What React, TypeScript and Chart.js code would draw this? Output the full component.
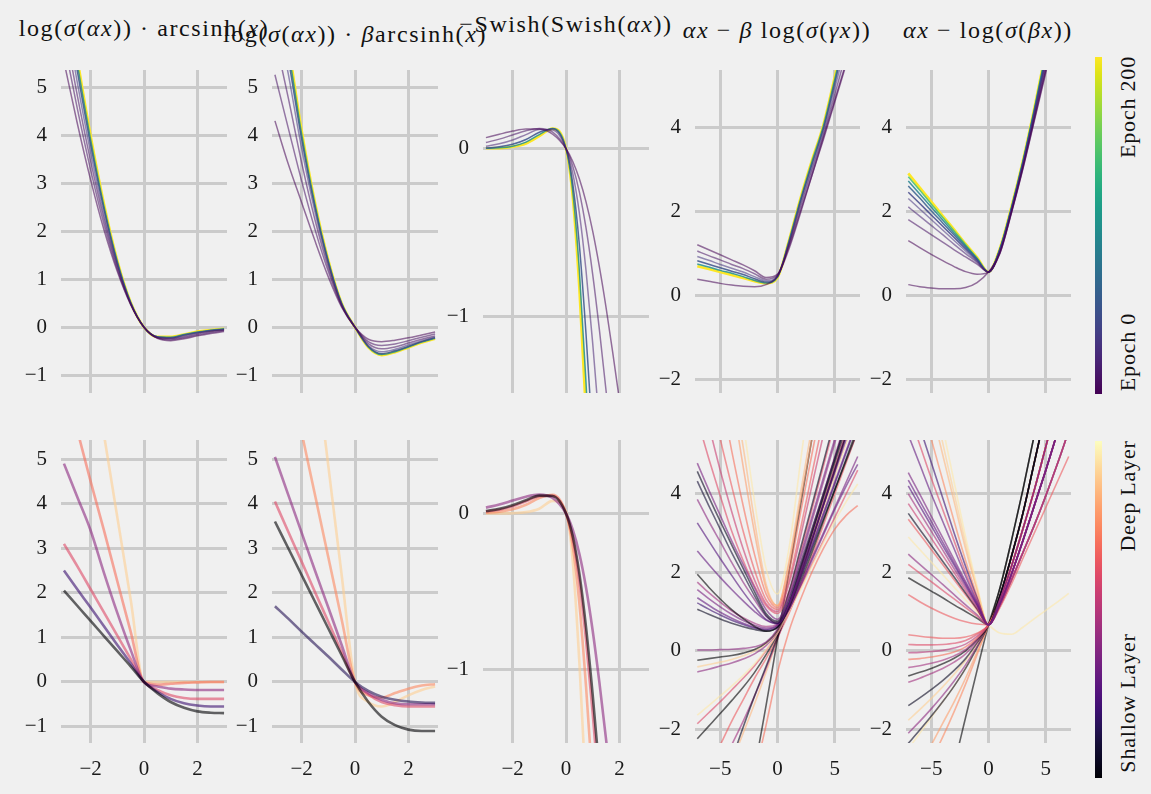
import React, { useEffect, useRef } from "react";
import { Chart, registerables } from "chart.js";

Chart.register(...registerables);

const FONT = "'Liberation Serif', 'Times New Roman', serif";
const BG = "#f0f0f0";
const GRID = "#cbcbcb";

// ---------- colour maps (21 stops, 0.05 apart) ----------
const VIRIDIS = ["#440154","#471365","#482475","#463480","#414487","#3b528b","#355f8d","#2f6c8e","#2a788e","#25848e","#21918c","#1e9c89","#22a884","#2fb47c","#44bf70","#5ec962","#7ad151","#9bd93c","#bddf26","#dfe318","#fde725"];
const MAGMA = ["#000004","#090720","#140e36","#251255","#3b0f70","#51127c","#641a80","#782281","#8c2981","#a1307e","#b73779","#ca3e72","#de4968","#ed5a5f","#f7705c","#fc8961","#fe9f6d","#feb77e","#fecf92","#fde7a9","#fcfdbf"];

// ---------- sample x positions ----------
const X13 = [-3, -2.5, -2, -1.5, -1, -0.5, 0, 0.5, 1, 1.5, 2, 2.5, 3];
const X17 = [-3, -2.5, -2, -1.5, -1, -0.5, 0, 0.25, 0.5, 0.75, 1, 1.25, 1.5, 1.75, 2, 2.5, 3];
const X15 = [-7, -6, -5, -4, -3, -2, -1, 0, 1, 2, 3, 4, 5, 6, 7];

// ---------- top row (epochs, viridis) ----------
const epochs1 = [0, 6, 12, 25, 50, 100, 200];
const top1 = [
  [5.54, 4.25, 3.07, 2.03, 1.16, 0.47, 0, -0.23, -0.28, -0.24, -0.18, -0.13, -0.09],
  [5.96, 4.56, 3.28, 2.15, 1.21, 0.48, 0, -0.22, -0.26, -0.22, -0.16, -0.11, -0.07],
  [6.33, 4.83, 3.46, 2.26, 1.26, 0.49, 0, -0.22, -0.24, -0.2, -0.14, -0.09, -0.06],
  [6.7, 5.1, 3.64, 2.36, 1.3, 0.5, 0, -0.21, -0.23, -0.18, -0.12, -0.08, -0.05],
  [7.02, 5.34, 3.8, 2.46, 1.34, 0.51, 0, -0.2, -0.22, -0.16, -0.11, -0.07, -0.04],
  [7.24, 5.5, 3.91, 2.52, 1.37, 0.52, 0, -0.2, -0.21, -0.15, -0.1, -0.06, -0.03],
  [7.39, 5.61, 3.99, 2.57, 1.39, 0.52, 0, -0.2, -0.2, -0.15, -0.09, -0.06, -0.03],
];

const epochs2 = [0, 6, 12, 25, 50, 100, 200];
const top2 = [
  [4.3, 3.4, 2.6, 1.8, 1.05, 0.42, 0, -0.25, -0.3, -0.27, -0.22, -0.16, -0.1],
  [5.26, 4.15, 3.05, 2.04, 1.16, 0.44, 0, -0.3, -0.38, -0.35, -0.28, -0.21, -0.14],
  [6.06, 4.78, 3.43, 2.24, 1.24, 0.46, 0, -0.34, -0.45, -0.41, -0.33, -0.25, -0.18],
  [6.7, 5.28, 3.73, 2.4, 1.31, 0.48, 0, -0.38, -0.51, -0.46, -0.37, -0.28, -0.2],
  [7.12, 5.6, 3.92, 2.5, 1.36, 0.49, 0, -0.4, -0.55, -0.49, -0.4, -0.3, -0.22],
  [7.34, 5.78, 4.03, 2.56, 1.38, 0.5, 0, -0.41, -0.57, -0.51, -0.41, -0.31, -0.23],
  [7.5, 5.9, 4.1, 2.6, 1.4, 0.5, 0, -0.42, -0.58, -0.52, -0.42, -0.32, -0.24],
];

const epochs3 = [0, 8, 20, 45, 100, 200];
const top3 = [
  [0.066, 0.086, 0.105, 0.118, 0.117, 0.086, 0, -0.075, -0.18, -0.318, -0.493, -0.705, -0.948, -1.217, -1.5, -2.1, -2.7],
  [0.037, 0.057, 0.082, 0.107, 0.12, 0.099, 0, -0.103, -0.258, -0.474, -0.751, -1.08, -1.445, -1.83, -2.22, -3.0, -3.8],
  [0.015, 0.029, 0.052, 0.084, 0.114, 0.111, 0, -0.145, -0.384, -0.728, -1.162, -1.651, -2.16, -2.67, -3.2, -4.2, -5.1],
  [0.004, 0.011, 0.026, 0.055, 0.098, 0.119, 0, -0.205, -0.574, -1.107, -1.74, -2.4, -3.1, -3.8, -4.4, -5.5, -6.6],
  [0.002, 0.005, 0.015, 0.039, 0.084, 0.12, 0, -0.251, -0.728, -1.4, -2.16, -2.95, -3.7, -4.5, -5.1, -6.4, -7.6],
  [0.002, 0.003, 0.011, 0.031, 0.075, 0.12, 0, -0.283, -0.833, -1.595, -2.43, -3.24, -4.02, -4.8, -5.5, -6.9, -8.3],
];

const epochs4 = [0, 3, 10, 25, 50, 100, 200];
const top4 = [
  [1.2, 1.08, 0.96, 0.84, 0.72, 0.58, 0.42, 0.5, 1.15, 2.0, 2.85, 3.7, 4.6, 5.5, 6.4],
  [0.38, 0.33, 0.28, 0.24, 0.21, 0.2, 0.25, 0.45, 1.1, 1.95, 2.85, 3.75, 4.65, 5.55, 6.45],
  [1.05, 0.94, 0.84, 0.73, 0.63, 0.51, 0.38, 0.48, 1.2, 2.09, 2.96, 3.81, 4.78, 5.77, 6.79],
  [0.92, 0.83, 0.73, 0.64, 0.55, 0.44, 0.34, 0.46, 1.23, 2.17, 3.04, 3.89, 4.93, 5.99, 7.12],
  [0.82, 0.735, 0.65, 0.57, 0.49, 0.39, 0.31, 0.44, 1.26, 2.23, 3.11, 3.96, 5.05, 6.18, 7.38],
  [0.74, 0.67, 0.59, 0.52, 0.44, 0.35, 0.29, 0.43, 1.29, 2.27, 3.17, 4.02, 5.14, 6.31, 7.57],
  [0.69, 0.62, 0.55, 0.48, 0.41, 0.33, 0.28, 0.42, 1.3, 2.3, 3.2, 4.05, 5.2, 6.4, 7.7],
];

const epochs5 = [0, 3, 8, 15, 25, 40, 60, 90, 140, 200];
const top5 = [
  [0.25, 0.2, 0.17, 0.15, 0.15, 0.18, 0.3, 0.55, 1.0, 1.95, 3.0, 4.15, 5.3, 6.5, 7.7],
  [1.3, 1.13, 0.97, 0.82, 0.68, 0.56, 0.5, 0.55, 1.0, 1.97, 3.02, 4.18, 5.35, 6.55, 7.75],
  [1.8, 1.62, 1.44, 1.26, 1.08, 0.91, 0.74, 0.55, 1.02, 1.98, 3.05, 4.22, 5.42, 6.65, 7.9],
  [2.1, 1.88, 1.66, 1.44, 1.21, 0.99, 0.78, 0.55, 1.04, 2.0, 3.08, 4.27, 5.5, 6.75, 8.0],
  [2.3, 2.05, 1.8, 1.55, 1.3, 1.05, 0.8, 0.55, 1.06, 2.02, 3.1, 4.3, 5.55, 6.85, 8.15],
  [2.45, 2.18, 1.91, 1.64, 1.37, 1.1, 0.83, 0.55, 1.08, 2.04, 3.13, 4.35, 5.62, 6.95, 8.3],
  [2.6, 2.31, 2.01, 1.72, 1.43, 1.14, 0.85, 0.55, 1.09, 2.06, 3.15, 4.38, 5.68, 7.03, 8.4],
  [2.72, 2.41, 2.1, 1.79, 1.48, 1.17, 0.87, 0.55, 1.1, 2.07, 3.17, 4.41, 5.73, 7.1, 8.48],
  [2.82, 2.5, 2.17, 1.85, 1.53, 1.2, 0.88, 0.55, 1.11, 2.09, 3.19, 4.43, 5.77, 7.15, 8.55],
  [2.9, 2.56, 2.23, 1.89, 1.56, 1.22, 0.9, 0.55, 1.12, 2.1, 3.2, 4.45, 5.8, 7.2, 8.6],
];

// ---------- bottom row (layer depth 0..1, magma) ----------
const layers6 = [0.0, 0.2, 0.4, 0.6, 0.72, 0.9];
const bot1 = [
  [2.05, 1.71, 1.37, 1.03, 0.69, 0.35, 0, -0.25, -0.45, -0.58, -0.66, -0.69, -0.7],
  [2.5, 2.08, 1.67, 1.25, 0.83, 0.42, 0, -0.22, -0.38, -0.48, -0.53, -0.55, -0.55],
  [4.9, 4.15, 3.4, 2.45, 1.55, 0.72, 0, -0.1, -0.15, -0.17, -0.18, -0.18, -0.18],
  [3.1, 2.6, 2.08, 1.56, 1.04, 0.52, 0, -0.18, -0.3, -0.36, -0.38, -0.38, -0.38],
  [6.8, 5.65, 4.5, 3.4, 2.26, 1.13, 0, -0.06, -0.04, -0.02, -0.01, 0, 0],
  [11.1, 9.25, 7.4, 5.55, 3.7, 1.85, 0, 0, 0, 0, 0, 0, 0],
];

const layers2 = [0.0, 0.15, 0.4, 0.6, 0.75, 0.9];
const bot2 = [
  [3.6, 3.0, 2.4, 1.8, 1.2, 0.6, 0, -0.45, -0.78, -0.97, -1.07, -1.1, -1.1],
  [1.7, 1.42, 1.13, 0.85, 0.57, 0.28, 0, -0.2, -0.33, -0.4, -0.44, -0.46, -0.47],
  [5.05, 4.2, 3.35, 2.5, 1.67, 0.83, 0, -0.25, -0.4, -0.48, -0.5, -0.5, -0.5],
  [4.05, 3.37, 2.7, 2.02, 1.35, 0.67, 0, -0.28, -0.45, -0.52, -0.55, -0.55, -0.55],
  [8.4, 7.0, 5.6, 4.2, 2.8, 1.4, 0, -0.3, -0.35, -0.25, -0.15, -0.08, -0.05],
  [14.5, 12.1, 9.7, 7.3, 4.85, 2.4, 0, -0.45, -0.55, -0.45, -0.3, -0.18, -0.1],
];

const layers3 = [0.0, 0.4, 0.6, 0.75, 0.9];
const bot3 = [
  [0.015, 0.029, 0.052, 0.084, 0.114, 0.111, 0, -0.145, -0.384, -0.728, -1.162, -1.651, -2.16, -2.67, -3.2, -4.2, -5.1],
  [0.037, 0.057, 0.082, 0.107, 0.12, 0.099, 0, -0.103, -0.258, -0.474, -0.751, -1.08, -1.445, -1.83, -2.22, -3.0, -3.8],
  [0.012, 0.024, 0.045, 0.078, 0.11, 0.113, 0, -0.16, -0.43, -0.81, -1.28, -1.8, -2.35, -2.9, -3.4, -4.5, -5.5],
  [0.004, 0.011, 0.026, 0.055, 0.098, 0.119, 0, -0.205, -0.574, -1.107, -1.74, -2.4, -3.1, -3.8, -4.4, -5.5, -6.6],
  [0.0, 0.0, 0.002, 0.008, 0.03, 0.08, 0.01, -0.3, -0.95, -1.8, -2.7, -3.6, -4.5, -5.4, -6.3, -8.0, -9.6],
];

const layers4 = [0.35, 0.05, 0.1, 0.4, 0.25, 0.3, 0.0, 0.45, 0.35, 0.3, 0.2, 0.05, 0.4, 0.0, 0.92, 0.4, 0.97, 0.6, 0.0, 0.7, 0.6, 0.55, 0.65, 0.7, 0.8, 0.85, 0.97, 0.05, 0.0, 0.45, 0.65, 0.85];
const bot4 = [
  [4.78, 4.1, 3.45, 2.8, 2.2, 1.6, 1.05, 0.8, 1.4, 2.4, 3.4, 4.4, 5.4, 6.4, 7.4],
  [4.57, 3.92, 3.3, 2.7, 2.1, 1.5, 0.95, 0.75, 1.5, 2.6, 3.7, 4.8, 5.9, 7.0, 8.1],
  [4.32, 3.7, 3.1, 2.5, 1.95, 1.4, 0.9, 0.7, 1.3, 2.2, 3.1, 4.0, 4.9, 5.8, 6.7],
  [3.86, 3.3, 2.78, 2.25, 1.75, 1.3, 0.88, 0.72, 1.35, 2.3, 3.3, 4.3, 5.3, 6.3, 7.3],
  [3.26, 2.8, 2.35, 1.92, 1.5, 1.12, 0.8, 0.7, 1.2, 2.0, 2.85, 3.7, 4.55, 5.4, 6.25],
  [2.54, 2.2, 1.87, 1.56, 1.27, 1.0, 0.78, 0.68, 1.15, 1.9, 2.7, 3.5, 4.3, 5.1, 5.9],
  [1.95, 1.62, 1.32, 1.05, 0.82, 0.62, 0.5, 0.6, 1.1, 1.9, 2.8, 3.7, 4.6, 5.5, 6.4],
  [1.75, 1.48, 1.24, 1.02, 0.84, 0.7, 0.62, 0.68, 1.15, 1.95, 2.8, 3.7, 4.6, 5.5, 6.4],
  [1.56, 1.33, 1.12, 0.93, 0.77, 0.65, 0.58, 0.66, 1.05, 1.7, 2.35, 3.0, 3.65, 4.3, 4.95],
  [1.35, 1.16, 0.98, 0.83, 0.7, 0.6, 0.55, 0.65, 1.05, 1.65, 2.3, 2.95, 3.6, 4.2, 4.75],
  [1.22, 1.06, 0.91, 0.78, 0.67, 0.58, 0.53, 0.62, 1.1, 1.85, 2.65, 3.45, 4.25, 5.05, 5.85],
  [1.06, 0.93, 0.81, 0.7, 0.61, 0.54, 0.5, 0.6, 1.2, 2.1, 3.0, 3.9, 4.8, 5.7, 6.6],
  [0.02, 0.02, 0.03, 0.04, 0.06, 0.1, 0.22, 0.55, 1.2, 2.1, 3.05, 4.0, 4.95, 5.9, 6.85],
  [-0.24, -0.2, -0.16, -0.12, -0.06, 0.03, 0.2, 0.52, 1.15, 2.05, 3.0, 3.95, 4.9, 5.85, 6.8],
  [-0.41, -0.35, -0.29, -0.22, -0.13, -0.01, 0.18, 0.5, 1.1, 1.9, 2.75, 3.6, 4.45, 5.3, 6.15],
  [-0.54, -0.47, -0.39, -0.31, -0.21, -0.08, 0.13, 0.48, 1.1, 1.95, 2.85, 3.75, 4.65, 5.55, 6.45],
  [-1.64, -1.4, -1.15, -0.9, -0.63, -0.33, 0.02, 0.45, 1.0, 1.55, 2.15, 2.75, 3.3, 3.8, 4.25],
  [-1.86, -1.58, -1.3, -1.0, -0.7, -0.38, 0.0, 0.45, 1.0, 1.6, 2.2, 2.8, 3.4, 4.0, 4.6],
  [-2.24, -1.92, -1.6, -1.27, -0.93, -0.55, -0.1, 0.42, 1.05, 1.75, 2.5, 3.3, 4.1, 4.9, 5.7],
  [-12, -10.2, -8.4, -6.6, -4.8, -3.2, -1.9, -0.55, 0.5, 1.3, 2.0, 2.6, 3.1, 3.45, 3.7],
  [5.9, 4.9, 3.95, 3.05, 2.3, 1.65, 1.15, 0.95, 1.5, 2.5, 3.6, 4.7, 5.8, 6.9, 8.0],
  [6.9, 5.75, 4.6, 3.55, 2.6, 1.8, 1.2, 1.0, 1.7, 2.9, 4.2, 5.5, 6.8, 8.1, 9.4],
  [8.0, 6.7, 5.4, 4.2, 3.05, 2.05, 1.3, 1.05, 1.8, 3.1, 4.5, 5.9, 7.3, 8.7, 10.0],
  [9.5, 8.0, 6.6, 5.1, 3.7, 2.45, 1.45, 1.1, 2.0, 3.5, 5.0, 6.5, 8.0, 9.5, 11.0],
  [11.0, 9.5, 8.0, 6.5, 4.7, 3.0, 1.6, 1.15, 2.2, 3.8, 5.4, 7.0, 8.6, 10.2, 11.8],
  [12.0, 10.3, 8.6, 6.9, 5.2, 3.3, 1.7, 1.15, 2.3, 4.0, 5.7, 7.4, 9.1, 10.8, 12.5],
  [13.0, 11.2, 9.4, 7.6, 5.8, 3.8, 2.1, 1.45, 2.6, 4.8, 7.0, 9.2, 11.4, 13.6, 15.8],
  [-5.5, -4.6, -3.7, -2.8, -1.95, -1.15, -0.4, 0.35, 1.1, 1.85, 2.6, 3.35, 4.1, 4.85, 5.6],
  [-10, -8.6, -7.2, -5.8, -4.4, -3.0, -1.4, 0.3, 2.0, 3.7, 5.4, 7.1, 8.8, 10.5, 12.2],
  [-4.2, -3.6, -3.0, -2.4, -1.8, -1.15, -0.45, 0.3, 1.1, 1.95, 2.85, 3.75, 4.65, 5.55, 6.45],
  [-3.6, -3.0, -2.4, -1.8, -1.25, -0.7, -0.2, 0.35, 0.95, 1.65, 2.4, 3.2, 4.0, 4.8, 5.6],
  [-5.0, -4.3, -3.6, -2.85, -2.1, -1.35, -0.55, 0.3, 1.15, 2.05, 2.95, 3.85, 4.75, 5.65, 6.55],
];

// panel 5 bottom: left branches (x = -7..-1), shared value at 0, right branches (x = 1..7)
const bot5Centre = 0.66;
const bot5Layers = [0.35, 0.3, 0.25, 0.45, 0.55, 0.05, 0.65, 0.97, 0.4, 0.6, 0.0, 0.65, 0.65, 0.6, 0.5, 0.7, 0.45, 0.0, 0.45, 0.05, 0.9, 0.4, 0.05, 0.8, 0.75, 0.0, 0.95, 0.3, 0.6, 0.2, 0.75, 0.85, 0.95, 0.9];
const bot5Left = [
  [4.54, 3.99, 3.43, 2.88, 2.32, 1.77, 1.21],
  [4.35, 3.82, 3.3, 2.77, 2.24, 1.72, 1.19],
  [4.2, 3.69, 3.19, 2.68, 2.18, 1.67, 1.17],
  [4.0, 3.52, 3.05, 2.57, 2.09, 1.61, 1.14],
  [3.75, 3.31, 2.87, 2.43, 1.99, 1.54, 1.1],
  [3.5, 3.09, 2.69, 2.28, 1.88, 1.47, 1.07],
  [3.35, 2.97, 2.58, 2.2, 1.81, 1.43, 1.04],
  [2.9, 2.58, 2.26, 1.94, 1.62, 1.3, 0.98],
  [2.46, 2.2, 1.95, 1.69, 1.43, 1.17, 0.92],
  [2.2, 1.98, 1.76, 1.54, 1.32, 1.1, 0.88],
  [1.86, 1.69, 1.52, 1.35, 1.17, 1.0, 0.83],
  [1.43, 1.25, 1.09, 0.95, 0.83, 0.74, 0.68],
  [0.41, 0.37, 0.34, 0.32, 0.32, 0.35, 0.45],
  [0.16, 0.15, 0.15, 0.16, 0.19, 0.26, 0.42],
  [-0.05, -0.04, -0.02, 0.01, 0.07, 0.17, 0.37],
  [-0.22, -0.2, -0.16, -0.11, -0.03, 0.1, 0.33],
  [-0.43, -0.38, -0.32, -0.24, -0.13, 0.03, 0.3],
  [-0.64, -0.55, -0.45, -0.33, -0.19, 0.0, 0.28],
  [-0.8, -0.7, -0.58, -0.45, -0.29, -0.08, 0.24],
  [-1.4, -1.2, -0.99, -0.76, -0.5, -0.2, 0.2],
  [-1.77, -1.5, -1.22, -0.92, -0.6, -0.25, 0.18],
  [-2.1, -1.8, -1.48, -1.14, -0.77, -0.36, 0.12],
  [-2.36, -2.02, -1.67, -1.3, -0.9, -0.45, 0.08],
  [-3.4, -2.9, -2.4, -1.85, -1.3, -0.7, -0.03],
  [-4.0, -3.4, -2.8, -2.2, -1.55, -0.85, -0.1],
  [-7.5, -6.4, -5.2, -4.0, -2.9, -1.7, -0.5],
  [-2.5, -2.1, -1.7, -1.3, -0.9, -0.45, 0.1],
  [5.5, 4.75, 4.0, 3.3, 2.6, 1.9, 1.25],
  [6.1, 5.25, 4.4, 3.6, 2.8, 2.0, 1.3],
  [6.6, 5.7, 4.8, 3.9, 3.0, 2.15, 1.35],
  [7.5, 6.5, 5.4, 4.35, 3.3, 2.3, 1.4],
  [8.6, 7.4, 6.2, 5.0, 3.8, 2.6, 1.55],
  [9.9, 8.5, 7.1, 5.7, 4.3, 2.9, 1.65],
  [9.2, 7.9, 6.6, 5.3, 4.0, 2.75, 1.6],
];
const bot5RightSets: Record<string, number[]> = {
  a: [1.6, 2.8, 4.1, 5.5, 7.0, 8.5, 10.0],
  b: [1.4, 2.4, 3.5, 4.8, 6.1, 7.4, 8.7],
  c: [1.3, 2.15, 3.1, 4.1, 5.2, 6.3, 7.4],
  d: [1.2, 1.95, 2.8, 3.7, 4.6, 5.55, 6.5],
  e: [1.15, 1.8, 2.5, 3.2, 3.95, 4.75, 5.6],
  f: [1.1, 1.7, 2.35, 3.0, 3.65, 4.3, 4.95],
  y: [0.45, 0.42, 0.6, 0.82, 1.03, 1.24, 1.46],
};
const bot5Right = ["d", "c", "d", "e", "c", "b", "f", "y", "d", "c", "b", "e", "c", "d", "d", "c", "e", "a", "d", "b", "c", "d", "b", "c", "b", "a", "c", "d", "c", "e", "b", "b", "b", "c"];

// ---------- axes ----------
const ticksSmallX = [-2, 0, 2];
const ticksWideX = [-5, 0, 5];
const ticksY12 = [-1, 0, 1, 2, 3, 4, 5];
const ticksY3 = [-1, 0];
const ticksY45 = [-2, 0, 2, 4];

function rgba(stops: string[], t: number, a: number) {
  const i = Math.max(0, Math.min(stops.length - 1, Math.round(t * (stops.length - 1))));
  const h = stops[i];
  const r = parseInt(h.slice(1, 3), 16);
  const g = parseInt(h.slice(3, 5), 16);
  const b = parseInt(h.slice(5, 7), 16);
  return `rgba(${r},${g},${b},${a})`;
}

type Series = { values: number[]; color: string; width: number };

function epochSeries(epochs: number[], vals: number[][]): Series[] {
  return vals.map((v, i) => {
    const e = epochs[i];
    const last = e === 200;
    return {
      values: v,
      color: rgba(VIRIDIS, e / 200, last ? 1 : e < 30 ? 0.55 : 0.85),
      width: last ? 2.6 : 1.5,
    };
  });
}

function layerSeries(layers: number[], vals: number[][], w: number): Series[] {
  return vals.map((v, i) => ({ values: v, color: rgba(MAGMA, layers[i], 0.6), width: w }));
}

const fmt = (v: number) => (v < 0 ? "\u2212" + Math.abs(v) : String(v));

type PanelProps = {
  left: number; top: number; w: number; h: number;
  xMin: number; xMax: number; yMin: number; yMax: number;
  xTicks: number[]; yTicks: number[]; showX: boolean;
  xs: number[]; series: Series[];
};

function zeroPad(s: any) {
  s.paddingTop = 0;
  s.paddingBottom = 0;
  s.paddingLeft = 0;
  s.paddingRight = 0;
}

function Panel(p: PanelProps) {
  const ref = useRef<HTMLCanvasElement>(null);
  const PADL = 62, PADR = 6, PADT = 6;
  const XH = p.showX ? 50 : 0;
  const PADB = p.showX ? 0 : 6;
  const W = p.w + PADL + PADR;
  const H = p.h + PADT + XH + PADB;
  useEffect(() => {
    const chart = new Chart(ref.current as HTMLCanvasElement, {
      type: "line",
      data: {
        datasets: p.series.map((s) => ({
          data: p.xs.map((x, i) => ({ x, y: s.values[i] })),
          borderColor: s.color,
          borderWidth: s.width,
          pointRadius: 0,
          fill: false,
          cubicInterpolationMode: "monotone" as const,
          clip: 0,
        })),
      },
      options: {
        animation: false,
        responsive: false,
        events: [],
        layout: { padding: { left: 0, right: PADR, top: PADT, bottom: PADB } },
        plugins: { legend: { display: false }, tooltip: { enabled: false } },
        scales: {
          x: {
            type: "linear",
            min: p.xMin,
            max: p.xMax,
            afterBuildTicks: (s: any) => { s.ticks = p.xTicks.map((v) => ({ value: v })); },
            afterFit: (s: any) => { s.height = XH; zeroPad(s); },
            grid: { color: GRID, lineWidth: 3, drawTicks: false },
            border: { display: false },
            ticks: {
              display: p.showX, padding: 14, color: "#1a1a1a",
              font: { family: FONT, size: 21 }, maxRotation: 0, autoSkip: false,
              callback: (v: any) => fmt(Number(v)),
            },
          },
          y: {
            type: "linear",
            min: p.yMin,
            max: p.yMax,
            afterBuildTicks: (s: any) => { s.ticks = p.yTicks.map((v) => ({ value: v })); },
            afterFit: (s: any) => { s.width = PADL; zeroPad(s); },
            grid: { color: GRID, lineWidth: 3, drawTicks: false },
            border: { display: false },
            ticks: {
              padding: 14, color: "#1a1a1a",
              font: { family: FONT, size: 21 }, autoSkip: false,
              callback: (v: any) => fmt(Number(v)),
            },
          },
        },
      } as any,
    });
    return () => chart.destroy();
  }, []);
  return (
    <canvas
      ref={ref}
      width={W}
      height={H}
      style={{ position: "absolute", left: p.left - PADL, top: p.top - PADT, width: W, height: H }}
    />
  );
}

const TITLE_STYLE: React.CSSProperties = {
  position: "absolute", width: 400, textAlign: "center", whiteSpace: "nowrap",
  fontFamily: FONT, fontSize: 24, letterSpacing: "1.6px", color: "#111", lineHeight: "26px",
};

function Title({ cx, top, children }: { cx: number; top: number; children: React.ReactNode }) {
  return <div style={{ ...TITLE_STYLE, left: cx - 200, top }}>{children}</div>;
}

function VLabel({ cx, cy, text }: { cx: number; cy: number; text: string }) {
  return (
    <div
      style={{
        position: "absolute", left: cx, top: cy, transform: "translate(-50%, -50%) rotate(-90deg)",
        whiteSpace: "nowrap", fontFamily: FONT, fontSize: 22, letterSpacing: "0.8px", color: "#111", lineHeight: "24px",
      }}
    >
      {text}
    </div>
  );
}

export default function App() {
  useEffect(() => {
    document.body.style.margin = "0";
    document.body.style.background = BG;
  }, []);

  const lefts = [61, 272, 483, 695, 906];
  const widths = [166, 166, 166, 165, 165];
  const topRow = { top: 70, h: 323 };
  const botRow = { top: 440, h: 303 };

  const viridisGrad = "linear-gradient(to top, " + VIRIDIS.join(", ") + ")";
  const magmaGrad = "linear-gradient(to top, " + MAGMA.join(", ") + ")";

  return (
    <div style={{ position: "absolute", left: 0, top: 0, width: 1151, height: 794, background: BG, overflow: "hidden" }}>
      {/* titles */}
      <Title cx={144} top={15}>log(<i>σ</i>(<i>αx</i>)) · arcsinh(<i>x</i>)</Title>
      <Title cx={355} top={21}>log(<i>σ</i>(<i>αx</i>)) · <i>β</i>arcsinh(<i>x</i>)</Title>
      <Title cx={566} top={11}>−Swish(Swish(<i>αx</i>))</Title>
      <Title cx={777} top={17}><i>αx</i> − <i>β</i> log(<i>σ</i>(<i>γx</i>))</Title>
      <Title cx={988} top={17}><i>αx</i> − log(<i>σ</i>(<i>βx</i>))</Title>

      {/* top row */}
      <Panel left={lefts[0]} w={widths[0]} {...topRow} xMin={-3.11} xMax={3.11} yMin={-1.37} yMax={5.36}
        xTicks={ticksSmallX} yTicks={ticksY12} showX={false} xs={X13} series={epochSeries(epochs1, top1)} />
      <Panel left={lefts[1]} w={widths[1]} {...topRow} xMin={-3.11} xMax={3.11} yMin={-1.37} yMax={5.36}
        xTicks={ticksSmallX} yTicks={ticksY12} showX={false} xs={X13} series={epochSeries(epochs2, top2)} />
      <Panel left={lefts[2]} w={widths[2]} {...topRow} xMin={-3.11} xMax={3.11} yMin={-1.46} yMax={0.47}
        xTicks={ticksSmallX} yTicks={ticksY3} showX={false} xs={X17} series={epochSeries(epochs3, top3)} />
      <Panel left={lefts[3]} w={widths[3]} {...topRow} xMin={-7.2} xMax={7.2} yMin={-2.33} yMax={5.36}
        xTicks={ticksWideX} yTicks={ticksY45} showX={false} xs={X15} series={epochSeries(epochs4, top4)} />
      <Panel left={lefts[4]} w={widths[4]} {...topRow} xMin={-7.2} xMax={7.2} yMin={-2.33} yMax={5.36}
        xTicks={ticksWideX} yTicks={ticksY45} showX={false} xs={X15} series={epochSeries(epochs5, top5)} />

      {/* bottom row */}
      <Panel left={lefts[0]} w={widths[0]} {...botRow} xMin={-3.11} xMax={3.11} yMin={-1.37} yMax={5.43}
        xTicks={ticksSmallX} yTicks={ticksY12} showX={true} xs={X13} series={layerSeries(layers6, bot1, 2.6)} />
      <Panel left={lefts[1]} w={widths[1]} {...botRow} xMin={-3.11} xMax={3.11} yMin={-1.37} yMax={5.43}
        xTicks={ticksSmallX} yTicks={ticksY12} showX={true} xs={X13} series={layerSeries(layers2, bot2, 2.6)} />
      <Panel left={lefts[2]} w={widths[2]} {...botRow} xMin={-3.11} xMax={3.11} yMin={-1.47} yMax={0.47}
        xTicks={ticksSmallX} yTicks={ticksY3} showX={true} xs={X17} series={layerSeries(layers3, bot3, 2.6)} />
      <Panel left={lefts[3]} w={widths[3]} {...botRow} xMin={-7.2} xMax={7.2} yMin={-2.35} yMax={5.37}
        xTicks={ticksWideX} yTicks={ticksY45} showX={true} xs={X15} series={layerSeries(layers4, bot4, 1.6)} />
      <Panel left={lefts[4]} w={widths[4]} {...botRow} xMin={-7.2} xMax={7.2} yMin={-2.35} yMax={5.37}
        xTicks={ticksWideX} yTicks={ticksY45} showX={true} xs={X15}
        series={layerSeries(bot5Layers, bot5Left.map((l, i) => [...l, bot5Centre, ...bot5RightSets[bot5Right[i]]]), 1.6)} />

      {/* colour bars */}
      <div style={{ position: "absolute", left: 1095, top: 57, width: 7, height: 337, background: viridisGrad }} />
      <div style={{ position: "absolute", left: 1095, top: 441, width: 7, height: 337, background: magmaGrad }} />
      <VLabel cx={1128} cy={107} text="Epoch 200" />
      <VLabel cx={1128} cy={352} text="Epoch 0" />
      <VLabel cx={1128} cy={496} text="Deep Layer" />
      <VLabel cx={1128} cy={703} text="Shallow Layer" />
    </div>
  );
}
